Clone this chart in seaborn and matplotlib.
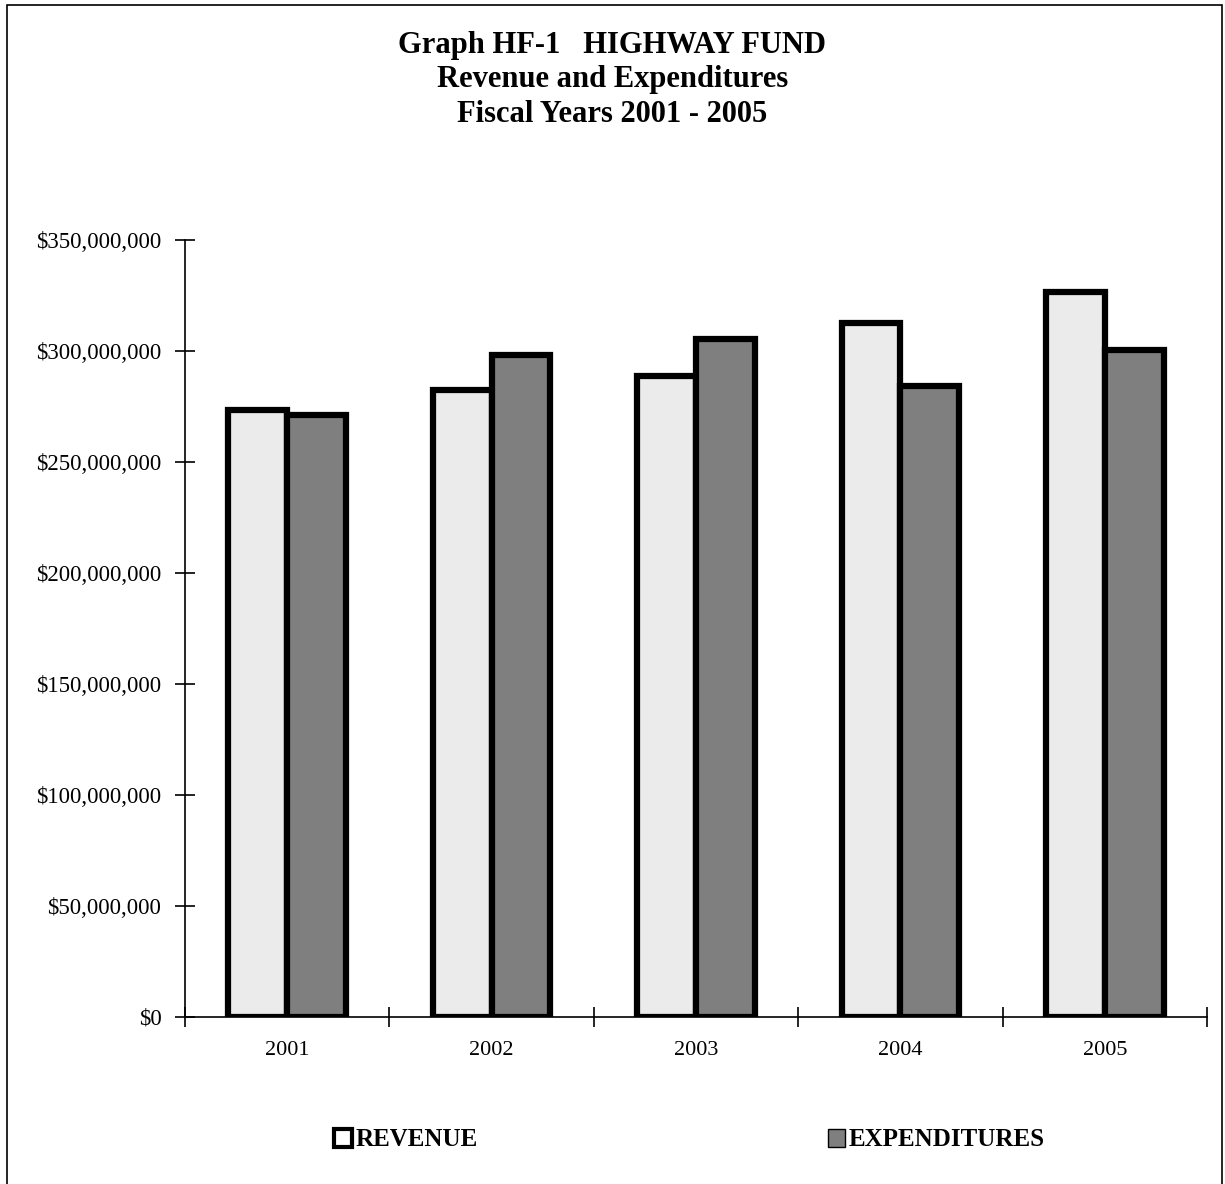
import matplotlib
matplotlib.use("Agg")
import matplotlib.pyplot as plt
import seaborn as sns
import pandas as pd
from matplotlib.patches import Patch, Rectangle
from matplotlib.ticker import FuncFormatter, MultipleLocator, FixedLocator

years = ["2001", "2002", "2003", "2004", "2005"]
revenue = [273.4e6, 282.4e6, 288.7e6, 312.6e6, 326.6e6]
expenditures = [271.2e6, 298.2e6, 305.4e6, 284.2e6, 300.5e6]
series = ["REVENUE", "EXPENDITURES"]
colors = ["#ebebeb", "#7f7f7f"]

df = pd.DataFrame({
    "year": years * 2,
    "value": revenue + expenditures,
    "series": [series[0]] * len(years) + [series[1]] * len(years),
})

sns.set_style("white")
plt.rcParams["font.family"] = ["Liberation Serif", "DejaVu Serif"]
plt.rcParams["text.color"] = "black"

fig = plt.figure(figsize=(12.25, 11.84), dpi=100)
ax = fig.add_axes([185 / 1225, 1 - 1017 / 1184, (1207 - 185) / 1225, (1017 - 240) / 1184])

sns.barplot(data=df, x="year", y="value", hue="series", hue_order=series,
            palette=colors, width=0.575, edgecolor="black", linewidth=4.5,
            saturation=1, ax=ax, legend=False)

ax.set_ylim(0, 350e6)
ax.set_xlim(-0.5, 4.5)
ax.yaxis.set_major_locator(MultipleLocator(50e6))
ax.yaxis.set_major_formatter(FuncFormatter(lambda v, p: f"${v:,.0f}"))
ax.set_xlabel("")
ax.set_ylabel("")

for s in ["top", "right"]:
    ax.spines[s].set_visible(False)
for s in ["left", "bottom"]:
    ax.spines[s].set_color("black")
    ax.spines[s].set_linewidth(1.2)

ax.tick_params(axis="y", which="major", direction="inout", length=14, width=1.2,
               colors="black", labelsize=16.5, pad=10, left=True)
ax.tick_params(axis="x", which="major", length=0, labelsize=16, pad=17, colors="black")
ax.xaxis.set_minor_locator(FixedLocator([-0.5, 0.5, 1.5, 2.5, 3.5, 4.5]))
ax.tick_params(axis="x", which="minor", direction="inout", length=14, width=1.2,
               colors="black", bottom=True)
for t in ax.get_xticklabels() + ax.get_yticklabels():
    t.set_color("black")

title_lines = ["Graph HF-1   HIGHWAY FUND", "Revenue and Expenditures", "Fiscal Years 2001 - 2005"]
for i, line in enumerate(title_lines):
    fig.text(0.5, 1 - (46 + 34 * i) / 1184, line, ha="center", va="center",
             fontsize=22, fontweight="bold", color="black")

handles = [Patch(facecolor="white", edgecolor="black", linewidth=3, label=series[0]),
           Patch(facecolor=colors[1], edgecolor="black", linewidth=1, label=series[1])]
leg = fig.legend(handles=handles, loc="center", bbox_to_anchor=(0.563, 1 - 1140 / 1184),
                 ncol=2, frameon=False, handlelength=0.7, handleheight=0.7,
                 handletextpad=0.15, columnspacing=14.0,
                 prop={"family": "Liberation Serif", "weight": "bold", "size": 18})
for t in leg.get_texts():
    t.set_color("black")

border = Rectangle((7 / 1225, -0.05), (1222 - 7) / 1225, 1.05 - 5 / 1184,
                   transform=fig.transFigure, fill=False, edgecolor="black",
                   linewidth=1.2)
fig.patches.append(border)

fig.savefig("out.png", dpi=100)
